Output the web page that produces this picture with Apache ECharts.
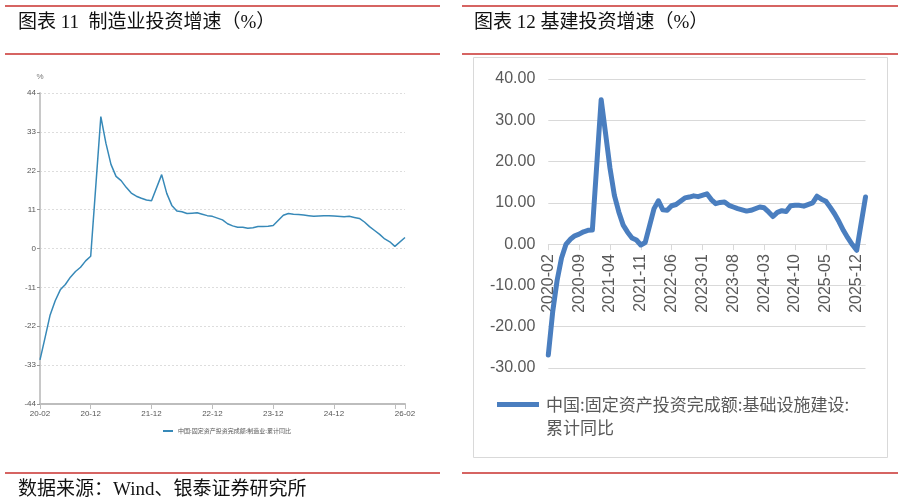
<!DOCTYPE html>
<html>
<head>
<meta charset="utf-8">
<script src="https://cdn.jsdelivr.net/npm/echarts@6/dist/echarts.min.js"></script>
<style>
html,body{margin:0;padding:0;background:#fff;}
#c{width:904px;height:504px;}
</style>
</head>
<body>
<div id="c"></div>
<script>
// ---- data ----
const startYear = 2020, endYear = 2026;
const months = [];
for (let y = startYear; y <= endYear; y++) {
  for (let m = 1; m <= 12; m++) {
    if (y === 2020 && m < 2) continue;
    if (y === 2026 && m > 2) continue;
    months.push(y + '-' + (m < 10 ? '0' + m : '' + m));
  }
}
// 制造业 累计同比 (%), January not published -> null
const mfg2020 = [-31.5, -25.2, -18.8, -14.8, -11.7, -10.2, -8.1, -6.5, -5.3, -3.5, -2.2];
const mfg2021 = [null, 37.3, 29.8, 23.8, 20.4, 19.2, 17.3, 15.7, 14.8, 14.2, 13.7, 13.5];
const mfg2022 = [null, 20.9, 15.6, 12.2, 10.6, 10.4, 9.9, 10.0, 10.1, 9.7, 9.3, 9.1];
const mfg2023 = [null, 8.1, 7.0, 6.4, 6.0, 6.0, 5.7, 5.9, 6.2, 6.2, 6.3, 6.5];
const mfg2024 = [null, 9.4, 9.9, 9.7, 9.6, 9.5, 9.3, 9.1, 9.2, 9.3, 9.3, 9.2];
const mfg2025 = [null, 9.0, 9.1, 8.8, 8.5, 7.5, 6.2, 5.1, 4.0, 2.7, 1.9, 0.6];
const mfg2026 = [null, 3.1];
// 基础设施建设 累计同比 (%)
const inf2020 = [-26.86, -16.36, -8.78, -3.34, -0.07, 1.18, 2.02, 2.42, 3.0, 3.34, 3.41];
const inf2021 = [null, 35.0, 26.8, 18.4, 11.8, 7.8, 4.6, 2.9, 1.5, 1.0, -0.2, 0.4];
const inf2022 = [null, 8.6, 10.5, 8.3, 8.2, 9.3, 9.6, 10.4, 11.2, 11.4, 11.7, 11.5];
const inf2023 = [null, 12.2, 10.8, 9.8, 10.1, 10.2, 9.4, 9.0, 8.6, 8.3, 8.0, 8.2];
const inf2024 = [null, 9.0, 8.8, 7.8, 6.7, 7.7, 8.1, 7.9, 9.3, 9.4, 9.4, 9.2];
const inf2025 = [null, 10.0, 11.6, 10.9, 10.4, 8.9, 7.3, 5.4, 3.3, 1.5, -0.1, -1.5];
const inf2026 = [null, 11.4];

const mfgValues = [].concat(mfg2020, mfg2021, mfg2022, mfg2023, mfg2024, mfg2025, mfg2026);
const infValues = [].concat(inf2020, inf2021, inf2022, inf2023, inf2024, inf2025, inf2026);

const leftLabelMonths = ['2020-02', '2020-12', '2021-12', '2022-12', '2023-12', '2024-12', '2026-02'];
const leftTickMonths = ['2020-02', '2020-12', '2021-12', '2022-12', '2023-12', '2024-12', '2025-12', '2026-02'];

const leftTitle = '图表 11  制造业投资增速（%）';
const rightTitle = '图表 12 基建投资增速（%）';
const sourceText = '数据来源：Wind、银泰证券研究所';
const mfgName = '中国:固定资产投资完成额:制造业:累计同比';
const infName = '中国:固定资产投资完成额:基础设施建设:累计同比';
const infLegendLine1 = '中国:固定资产投资完成额:基础设施建设:';
const infLegendLine2 = '累计同比';

// ---- chart ----
const chart = echarts.init(document.getElementById('c'), null, {renderer: 'canvas'});
const red = '#C8302E';
const serif = '"Liberation Serif", "Noto Sans CJK SC", serif';
const cjk = '"Noto Sans CJK SC", sans-serif';

const rMin = -30, rMax = 40;
const rTop = 79, rHeight = 289;
// distance from the grid bottom up to the zero line (puts the category axis on zero)
const rZeroOffset = -rHeight * (0 - rMin) / (rMax - rMin);

const option = {
  backgroundColor: '#ffffff',
  animation: false,
  grid: [
    {left: 40, width: 365, top: 93, height: 311, containLabel: false},
    {left: 548.3, width: 317.2, top: rTop, height: rHeight, containLabel: false}
  ],
  xAxis: [
    {
      type: 'category', gridIndex: 0, data: months, boundaryGap: false,
      axisLine: {onZero: false, lineStyle: {color: '#BDBDBD', width: 2}},
      axisTick: {
        length: 5, lineStyle: {color: '#BDBDBD', width: 1},
        interval: function (i, v) { return leftTickMonths.indexOf(v) >= 0; }
      },
      axisLabel: {
        interval: function (i, v) { return leftLabelMonths.indexOf(v) >= 0; },
        formatter: function (v) { return v.slice(2); },
        fontSize: 8, color: '#555', margin: 6,
        fontFamily: '"Liberation Sans Narrow", "Liberation Sans", sans-serif'
      },
      splitLine: {show: false}
    },
    {
      type: 'category', gridIndex: 1, data: months, boundaryGap: false,
      position: 'bottom', offset: rZeroOffset,
      axisLine: {onZero: false, lineStyle: {color: '#D9D9D9', width: 1}},
      axisTick: {interval: 6, length: 6, lineStyle: {color: '#D9D9D9'}},
      axisLabel: {
        interval: 6, rotate: 90, fontSize: 16, color: '#595959', margin: 10,
        fontFamily: '"Liberation Sans", sans-serif'
      },
      splitLine: {show: false}
    }
  ],
  yAxis: [
    {
      type: 'value', gridIndex: 0, min: -44, max: 44, interval: 11,
      name: '%', nameLocation: 'end', nameGap: 12,
      nameTextStyle: {fontSize: 8, color: '#777', align: 'center'},
      axisLine: {show: true, lineStyle: {color: '#C8C8C8', width: 2}},
      axisTick: {show: true, length: 3, lineStyle: {color: '#999'}},
      axisLabel: {fontSize: 8, color: '#555', margin: 4,
        fontFamily: '"Liberation Sans Narrow", "Liberation Sans", sans-serif'},
      splitLine: {show: true, lineStyle: {color: '#DDDDDD', type: [2, 2], width: 1}}
    },
    {
      type: 'value', gridIndex: 1, min: rMin, max: rMax, interval: 10,
      axisLine: {show: false},
      axisTick: {show: false},
      axisLabel: {fontSize: 16, color: '#595959', margin: 13,
        fontFamily: '"Liberation Sans", sans-serif',
        formatter: function (v) { return v.toFixed(2); }},
      splitLine: {show: true, lineStyle: {color: '#D9D9D9', width: 1}}
    }
  ],
  legend: [
    {
      data: [mfgName], left: 163, top: 428, padding: 0,
      icon: 'rect', itemWidth: 10, itemHeight: 2,
      textStyle: {fontSize: 6, color: '#555', fontFamily: cjk},
      selectedMode: false
    },
    {
      data: [infName], left: 497, top: 396, padding: 0,
      icon: 'rect', itemWidth: 42, itemHeight: 5,
      formatter: function () { return infLegendLine1; },
      textStyle: {fontSize: 17, color: '#595959', fontFamily: cjk, padding: [0, 0, 0, 2]},
      selectedMode: false
    }
  ],
  series: [
    {
      name: mfgName, type: 'line', xAxisIndex: 0, yAxisIndex: 0,
      data: mfgValues, connectNulls: true, showSymbol: false, symbol: 'none',
      lineStyle: {color: '#3789B8', width: 1.5},
      itemStyle: {color: '#3789B8'}
    },
    {
      name: infName, type: 'line', xAxisIndex: 1, yAxisIndex: 1,
      data: infValues, connectNulls: true, showSymbol: false, symbol: 'none',
      lineStyle: {color: '#4A7EBF', width: 5, join: 'round', cap: 'round'},
      itemStyle: {color: '#4A7EBF'}
    }
  ],
  graphic: [
    {type: 'line', shape: {x1: 5, y1: 6, x2: 440, y2: 6}, style: {stroke: red, lineWidth: 1.5}, silent: true},
    {type: 'line', shape: {x1: 462, y1: 6, x2: 898, y2: 6}, style: {stroke: red, lineWidth: 1.5}, silent: true},
    {type: 'line', shape: {x1: 5, y1: 54, x2: 440, y2: 54}, style: {stroke: red, lineWidth: 1.5}, silent: true},
    {type: 'line', shape: {x1: 462, y1: 54, x2: 898, y2: 54}, style: {stroke: red, lineWidth: 1.5}, silent: true},
    {type: 'line', shape: {x1: 5, y1: 473, x2: 440, y2: 473}, style: {stroke: red, lineWidth: 1.5}, silent: true},
    {type: 'line', shape: {x1: 462, y1: 473, x2: 898, y2: 473}, style: {stroke: red, lineWidth: 1.5}, silent: true},
    {type: 'rect', shape: {x: 473.5, y: 57.5, width: 414, height: 400}, style: {fill: 'none', stroke: '#D9D9D9', lineWidth: 1}, silent: true, z: -1},
    {type: 'text', x: 18, y: 23, style: {text: leftTitle, fontSize: 19, fontFamily: serif, fill: '#111', verticalAlign: 'middle'}, silent: true},
    {type: 'text', x: 474, y: 23, style: {text: rightTitle, fontSize: 19, fontFamily: serif, fill: '#111', verticalAlign: 'middle'}, silent: true},
    {type: 'text', x: 18, y: 490, style: {text: sourceText, fontSize: 19, fontFamily: serif, fill: '#111', verticalAlign: 'middle'}, silent: true},
    {type: 'text', x: 546, y: 428, style: {text: infLegendLine2, fontSize: 17, fontFamily: cjk, fill: '#595959', verticalAlign: 'middle'}, silent: true}
  ]
};
chart.setOption(option);
</script>
</body>
</html>
